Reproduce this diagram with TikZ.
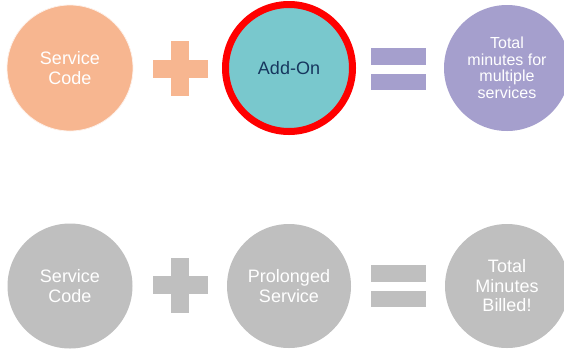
\documentclass[tikz,border=0pt]{standalone}
\usepackage{fontspec}
\setmainfont{Liberation Sans}
\usetikzlibrary{calc}
\definecolor{peach}{HTML}{F7B690}
\definecolor{tealfill}{HTML}{79C8CD}
\definecolor{lavender}{HTML}{A59FCD}
\definecolor{greyfill}{HTML}{BFBFBF}
\definecolor{navytext}{HTML}{17375E}
\definecolor{ringred}{HTML}{FF0000}
\tikzset{
  ball/.style={circle, inner sep=0pt, align=center, text=white,
    font=\fontsize{18}{19.5}\selectfont},
  small/.style={font=\fontsize{16}{16.5}\selectfont}
}
% plus sign built from two crossing bars
\newcommand{\plussign}[3]{%
  \fill[#3] ($(#1,#2)+(-27.5,-9)$) rectangle ($(#1,#2)+(27.5,9)$);
  \fill[#3] ($(#1,#2)+(-9,-27.5)$) rectangle ($(#1,#2)+(9,27.5)$);
}
% equals sign built from two stacked bars
\newcommand{\equalsign}[3]{%
  \fill[#3] ($(#1,#2)+(-27.5,-21)$) rectangle ($(#1,#2)+(27.5,-4.5)$);
  \fill[#3] ($(#1,#2)+(-27.5,4.5)$) rectangle ($(#1,#2)+(27.5,21)$);
}
\begin{document}
\begin{tikzpicture}[x=1pt,y=-1pt]
\useasboundingbox (0,0) rectangle (564,349);
\begin{scope}
\clip (0,0) rectangle (564,349);

% ---- first row ----
\node[ball, fill=peach, draw=white!80!peach, line width=0.8pt, minimum size=126] (sc1) at (70,68) {Service\\Code};
\plussign{180}{68.5}{peach}
\node[ball, fill=tealfill, draw=ringred, line width=7pt, minimum size=127, text=navytext] (addon) at (289,68) {Add-On};
\equalsign{398.5}{69}{lavender}
\node[ball, small, fill=lavender, minimum size=126] (tot1) at (507,68) {Total\\minutes for\\multiple\\services};

% ---- second row ----
\node[ball, fill=greyfill, minimum size=125] (sc2) at (70,286) {Service\\Code};
\plussign{180}{285}{greyfill}
\node[ball, fill=greyfill, minimum size=124] (prol) at (289,286) {Prolonged\\Service};
\equalsign{398.5}{286}{greyfill}
\node[ball, fill=greyfill, minimum size=124] (tot2) at (507,286) {Total\\Minutes\\Billed!};
\end{scope}
\end{tikzpicture}
\end{document}
